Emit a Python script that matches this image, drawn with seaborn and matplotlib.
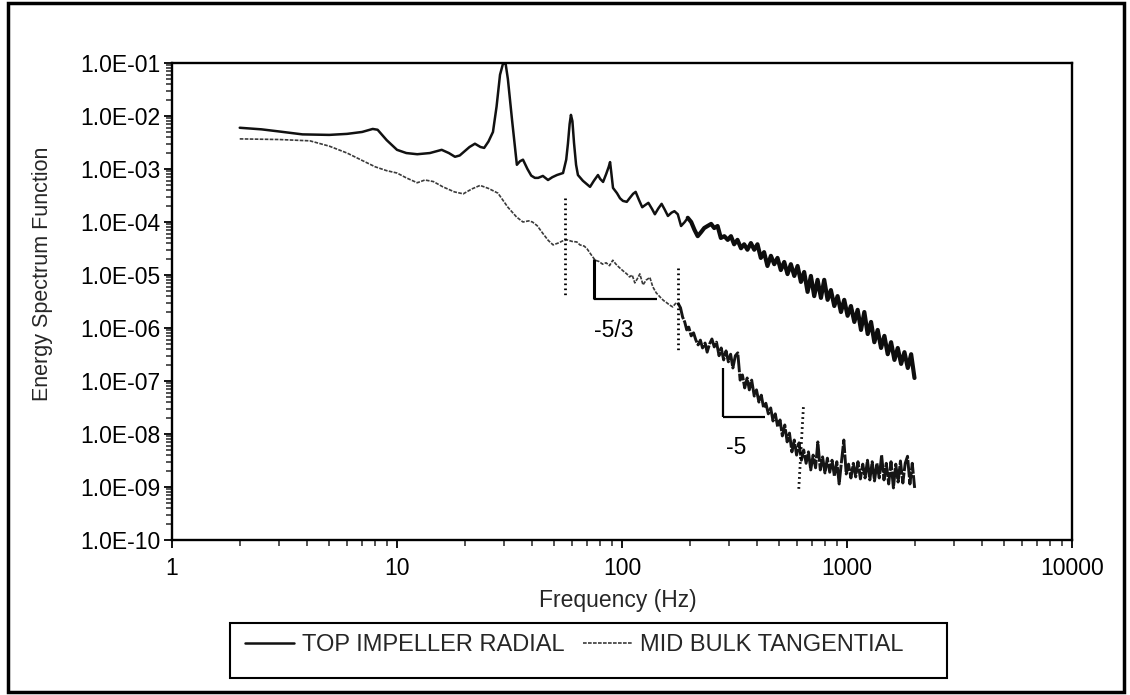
import numpy as np
import pandas as pd
import matplotlib
matplotlib.use("Agg")
import matplotlib.pyplot as plt
import seaborn as sns
from matplotlib.ticker import LogLocator, FuncFormatter, NullFormatter
from matplotlib.patches import Rectangle

# ---------------- data ----------------
series_labels = ["TOP IMPELLER RADIAL", "MID BULK TANGENTIAL"]

# TOP IMPELLER RADIAL (solid line)
top_freq_low = [2.0, 2.5, 3.0, 3.8, 5.0, 6.0, 7.0, 7.8, 8.2, 9.0, 10.0, 11.0, 12.3, 14.0, 15.8,
                17.0, 18.1, 19.0, 21.0, 22.2, 23.5, 24.4, 25.5, 26.7, 27.7, 28.7, 29.6, 30.4, 31.1, 32.5,
                34.1, 35.2, 36.3, 38.0, 39.5, 41.0, 42.4, 44.5, 46.9, 49.0, 51.4, 54.7, 56.5, 57.5, 58.5,
                59.3, 60.2, 61.2, 62.5, 63.7, 67.0, 72.1, 75.0, 78.2, 80.0, 82.4, 85.0, 87.3, 88.5, 89.5,
                91.2]
top_energy_low = [6.0e-3, 5.6e-3, 5.1e-3, 4.5e-3, 4.4e-3, 4.6e-3, 5.0e-3, 5.7e-3, 5.5e-3, 3.5e-3,
                  2.3e-3, 2.0e-3, 1.9e-3, 2.0e-3, 2.3e-3, 2.0e-3, 1.7e-3, 1.8e-3, 2.6e-3, 3.0e-3,
                  2.6e-3, 2.5e-3, 3.3e-3, 5.0e-3, 1.5e-2, 6.0e-2, 9.8e-2, 9.6e-2, 5.0e-2, 8.0e-3,
                  1.2e-3, 1.4e-3, 1.5e-3, 1.0e-3, 7.5e-4, 6.8e-4, 6.8e-4, 7.4e-4, 6.2e-4, 7.0e-4,
                  7.7e-4, 8.4e-4, 1.5e-3, 3.0e-3, 7.0e-3, 1.05e-2, 8.0e-3, 3.1e-3, 1.2e-3, 7.7e-4,
                  6.0e-4, 4.6e-4, 6.0e-4, 7.7e-4, 6.5e-4, 5.7e-4, 8.0e-4, 1.1e-3, 1.35e-3, 9.0e-4,
                  4.4e-4]
top_freq_high = [95, 98, 101, 105, 108, 112, 115, 119, 123, 127,
                 131, 136, 140, 145, 150, 155, 160, 166, 171, 177,
                 183, 190, 196, 203, 210, 217, 225, 232, 240, 249,
                 257, 266, 275, 285, 295, 305, 315, 326, 338, 349,
                 361, 374, 387, 400, 414, 428, 443, 459, 475, 491,
                 508, 526, 544, 563, 583, 603, 624, 645, 668, 691,
                 715, 740, 766, 792, 820, 848, 878, 908, 940, 972,
                 1006, 1041, 1078, 1115, 1154, 1194, 1236, 1279, 1323, 1369,
                 1417, 1466, 1517, 1570, 1625, 1681, 1740, 1800, 1863, 1928,
                 1995]
top_energy_high = [3.5e-4, 2.8e-4, 2.5e-4, 2.4e-4, 2.8e-4, 3.4e-4, 3.7e-4, 2.6e-4, 1.9e-4, 2.1e-4,
                   2.3e-4, 1.76e-4, 1.4e-4, 1.8e-4, 2.2e-4, 1.7e-4, 1.3e-4, 1.5e-4, 1.6e-4, 1.4e-4,
                   8.4e-5, 1.0e-4, 1.2e-4, 1.0e-4, 7.1e-5, 5.4e-5, 6.5e-5, 7.7e-5, 8.4e-5, 9.2e-5,
                   7.7e-5, 8.4e-5, 5.0e-5, 5.4e-5, 4.6e-5, 5.4e-5, 3.8e-5, 4.6e-5, 3.2e-5, 3.8e-5,
                   3.0e-5, 4.0e-5, 3.0e-5, 3.8e-5, 2.1e-5, 2.7e-5, 1.48e-5, 2.3e-5, 1.6e-5, 2.1e-5,
                   1.24e-5, 1.76e-5, 1.04e-5, 1.6e-5, 9.6e-6, 1.48e-5, 7.4e-6, 1.14e-5, 4.8e-6, 9.6e-6,
                   4.0e-6, 8.1e-6, 3.7e-6, 8.1e-6, 3.4e-6, 5.2e-6, 2.6e-6, 4.0e-6, 2.0e-6, 3.4e-6,
                   1.7e-6, 2.6e-6, 1.3e-6, 2.2e-6, 9.2e-7, 2.0e-6, 7.7e-7, 1.3e-6, 5.4e-7, 9.2e-7,
                   4.2e-7, 7.1e-7, 3.2e-7, 5.4e-7, 2.5e-7, 4.2e-7, 2.1e-7, 3.5e-7, 1.76e-7, 3.2e-7,
                   1.14e-7]

# MID BULK TANGENTIAL (dotted grey line)
mid_freq_low = [2.0, 3.0, 4.1, 5.0, 6.0, 7.0, 8.0, 9.0, 10.0, 11.0, 12.3, 13.3, 14.5, 16.0, 18.0,
                19.7, 21.5, 23.4, 25.5, 28.1, 31.1, 34.0, 36.3, 38.5, 40.0, 42.0, 44.6, 47.0, 49.4, 52.0,
                54.5]
mid_energy_low = [3.7e-3, 3.6e-3, 3.4e-3, 2.7e-3, 2.0e-3, 1.45e-3, 1.1e-3, 9.3e-4, 8.4e-4, 6.8e-4,
                  5.5e-4, 6.2e-4, 5.8e-4, 4.6e-4, 3.7e-4, 3.4e-4, 4.2e-4, 4.9e-4, 4.3e-4, 3.5e-4,
                  1.9e-4, 1.24e-4, 1.0e-4, 1.05e-4, 1.0e-4, 8.5e-5, 6.0e-5, 4.5e-5, 3.7e-5, 4.0e-5,
                  4.4e-5]
mid_freq_mid = [57, 60, 63, 65, 68, 70, 73, 76, 79, 82, 85, 88, 91, 94, 97, 101, 105, 108, 111, 114,
                117, 120, 124, 128, 133, 137, 142, 148, 153, 158, 163, 168, 173, 177]
mid_energy_mid = [4.6e-5, 4.3e-5, 4.2e-5, 3.7e-5, 3.5e-5, 3.1e-5, 2.4e-5, 1.9e-5, 1.8e-5, 1.6e-5,
                  1.7e-5, 1.5e-5, 1.9e-5, 1.6e-5, 1.4e-5, 1.2e-5, 1.05e-5, 9.2e-6, 1.0e-5, 7.1e-6,
                  8.5e-6, 1.05e-5, 6.5e-6, 8.0e-6, 9.0e-6, 6.0e-6, 4.6e-6, 3.8e-6, 3.3e-6, 3.0e-6,
                  2.7e-6, 2.5e-6, 2.9e-6, 3.0e-6]
mid_freq_high = [182, 186, 190, 194, 198, 203, 208, 213, 218, 223,
                 228, 234, 239, 245, 251, 257, 263, 270, 276, 283,
                 290, 297, 304, 311, 319, 327, 335, 343, 351, 360,
                 368, 377, 387, 396, 406, 416, 426, 436, 447, 458,
                 469, 480, 492, 504, 516, 529, 542, 555, 569, 583,
                 597, 612, 627, 642, 658, 674, 690, 707, 725, 742,
                 761, 779, 798, 818, 838, 858, 879, 901, 923, 945,
                 968, 992, 1016, 1041, 1067, 1093, 1119, 1147, 1175, 1203,
                 1233, 1263, 1294, 1325, 1358, 1391, 1425, 1460, 1495, 1532,
                 1569, 1608, 1647, 1687, 1728, 1771, 1814, 1858, 1904, 1950,
                 1998]
mid_energy_high = [2.4e-6, 1.6e-6, 1.3e-6, 9.2e-7, 1.04e-6, 7.1e-7, 8.1e-7, 5.9e-7, 4.8e-7, 5.9e-7,
                   4.2e-7, 5.2e-7, 3.5e-7, 5.0e-7, 6.2e-7, 4.4e-7, 5.4e-7, 3.0e-7, 4.2e-7, 2.5e-7,
                   3.7e-7, 2.3e-7, 3.2e-7, 1.76e-7, 3.0e-7, 3.4e-7, 1.04e-7, 1.3e-7, 7.4e-8, 1.14e-7,
                   6.8e-8, 1.04e-7, 5.2e-8, 6.8e-8, 4.0e-8, 5.4e-8, 3.1e-8, 3.8e-8, 2.4e-8, 3.1e-8,
                   1.76e-8, 2.4e-8, 1.36e-8, 1.84e-8, 9.2e-9, 1.48e-8, 7.1e-9, 1.04e-8, 4.6e-9, 7.7e-9,
                   4.0e-9, 6.8e-9, 3.2e-9, 5.0e-9, 2.8e-9, 4.6e-9, 2.1e-9, 4.0e-9, 2.3e-9, 7.1e-9,
                   2.1e-9, 3.7e-9, 1.84e-9, 3.5e-9, 1.9e-9, 3.2e-9, 1.6e-9, 3.0e-9, 1.14e-9, 3.0e-9,
                   7.7e-9, 1.76e-9, 2.7e-9, 1.48e-9, 2.8e-9, 1.55e-9, 3.0e-9, 1.42e-9, 2.7e-9, 1.48e-9,
                   3.2e-9, 1.36e-9, 3.0e-9, 1.3e-9, 2.8e-9, 1.48e-9, 4.0e-9, 1.36e-9, 2.8e-9, 1.14e-9,
                   3.0e-9, 9.6e-10, 2.7e-9, 1.24e-9, 3.1e-9, 1.19e-9, 2.8e-9, 3.8e-9, 1.14e-9, 2.8e-9,
                   9.6e-10]

# range boundaries (dotted verticals): frequency at top / bottom, energy top / bottom
boundary_freq_top = [56, 177, 640]
boundary_freq_bottom = [56, 177, 610]
boundary_energy_top = [2.8e-4, 1.35e-5, 3.2e-8]
boundary_energy_bottom = [3.8e-6, 3.8e-7, 8.7e-10]

# slope indicators: corner frequency, right frequency, top energy, base energy, label
slope_freq_left = [75, 281]
slope_freq_right = [143, 432]
slope_energy_top = [2.0e-5, 1.76e-7]
slope_energy_base = [3.5e-6, 2.1e-8]
slope_labels = ["-5/3", "-5"]
slope_label_freq = [92, 322]
slope_label_energy = [9.0e-7, 5.5e-9]

x_ticks = [1, 10, 100, 1000, 10000]
y_ticks = [1e-10, 1e-9, 1e-8, 1e-7, 1e-6, 1e-5, 1e-4, 1e-3, 1e-2, 1e-1]

# ---------------- build frames ----------------
top_freq = top_freq_low + top_freq_high
top_energy = top_energy_low + top_energy_high
mid_freq = mid_freq_low + mid_freq_mid + mid_freq_high
mid_energy = mid_energy_low + mid_energy_mid + mid_energy_high
assert len(top_freq) == len(top_energy), (len(top_freq), len(top_energy))
assert len(mid_freq) == len(mid_energy), (len(mid_freq), len(mid_energy))

top_df = pd.DataFrame({"Frequency": top_freq, "Energy": top_energy})
mid_df = pd.DataFrame({"Frequency": mid_freq, "Energy": mid_energy})

# ---------------- style ----------------
sns.set_style("ticks")
plt.rcParams["font.family"] = ["Liberation Sans", "DejaVu Sans"]
FS_TICK = 16.5
FS_TEXT = 16.5
FS_LEG = 17

fig = plt.figure(figsize=(11.3, 6.95), dpi=100)
ax = fig.add_axes([172 / 1130, 1 - 540 / 695, 900 / 1130, 477 / 695])
ax.set_xscale("log")
ax.set_yscale("log")

# top series: thin line at low frequency, dense thick trace at high frequency
sns.lineplot(data=top_df[top_df["Frequency"] <= 196], x="Frequency", y="Energy", ax=ax,
             color="#111111", lw=1.8, label=series_labels[0], estimator=None, sort=False)
sns.lineplot(data=top_df[top_df["Frequency"] >= 196], x="Frequency", y="Energy", ax=ax,
             color="#0d0d0d", lw=3.0, estimator=None, sort=False)
# mid series: grey dotted at low frequency, dark noisy trace at high frequency
sns.lineplot(data=mid_df[mid_df["Frequency"] <= 177], x="Frequency", y="Energy", ax=ax,
             color="#3a3a3a", lw=1.2, linestyle=(0, (2.2, 0.8)), label=series_labels[1],
             estimator=None, sort=False)
sns.lineplot(data=mid_df[mid_df["Frequency"] >= 177], x="Frequency", y="Energy", ax=ax,
             color="#151515", lw=2.1, linestyle=(0, (6.0, 0.5)), estimator=None, sort=False)

# dotted range boundaries
for ft, fb, et, eb in zip(boundary_freq_top, boundary_freq_bottom, boundary_energy_top, boundary_energy_bottom):
    ax.plot([ft, fb], [et, eb], color="black", lw=2.0, linestyle=(0, (0.6, 1.2)))

# slope indicators
for i, (fl, fr, et, eb) in enumerate(zip(slope_freq_left, slope_freq_right, slope_energy_top, slope_energy_base)):
    ax.plot([fl, fl], [et, eb], color="black", lw=2.2 if i == 0 else 1.6, solid_capstyle="butt")
    ax.plot([fl, fr], [eb, eb], color="black", lw=1.6, solid_capstyle="butt")
for lab, lf, le in zip(slope_labels, slope_label_freq, slope_label_energy):
    ax.text(lf, le, lab, fontsize=FS_TEXT, ha="center", va="center", color="black")

ax.set_xlim(1, 10000)
ax.set_ylim(1e-10, 1e-1)
ax.set_xticks(x_ticks)
ax.set_yticks(y_ticks)
ax.xaxis.set_major_formatter(FuncFormatter(lambda v, _: f"{v:g}"))
ax.yaxis.set_major_formatter(FuncFormatter(lambda v, _: f"{v:.1E}"))
ax.xaxis.set_minor_locator(LogLocator(base=10, subs=np.arange(2, 10), numticks=100))
ax.yaxis.set_minor_locator(LogLocator(base=10, subs=np.arange(2, 10), numticks=100))
ax.xaxis.set_minor_formatter(NullFormatter())
ax.yaxis.set_minor_formatter(NullFormatter())

ax.tick_params(axis="both", which="major", direction="out", length=6, width=1.3,
               labelsize=FS_TICK, colors="black", top=False, right=False)
ax.tick_params(axis="both", which="minor", direction="out", length=4.5, width=1.1,
               top=False, right=False)
ax.tick_params(axis="y", which="major", pad=2.5)
ax.tick_params(axis="x", which="major", pad=6)
for sp in ax.spines.values():
    sp.set_visible(True)
    sp.set_linewidth(1.7)
    sp.set_color("black")

ax.set_xlabel("Frequency (Hz)", fontsize=FS_TEXT)
ax.set_ylabel("Energy Spectrum Function", fontsize=15.5)
ax.xaxis.set_label_coords(0.495, -0.126)
ax.xaxis.label.set_va("center")
ax.yaxis.set_label_coords(-0.144, 0.558)
ax.yaxis.label.set_va("center")

handles, labels = ax.get_legend_handles_labels()
if ax.get_legend() is not None:
    ax.get_legend().remove()
fig.legend(handles, labels, loc="center", bbox_to_anchor=(0.508, 1 - 645 / 695), ncol=2,
           frameon=False, fontsize=FS_LEG, handlelength=2.1, handletextpad=0.3, columnspacing=0.8)

# legend frame and scanned page border
fig.patches.append(Rectangle((230 / 1130, 1 - 678 / 695), 717 / 1130, 55 / 695,
                             transform=fig.transFigure, fill=False, ec="black", lw=1.5))
fig.patches.append(Rectangle((8 / 1130, 3 / 695), 1116 / 1130, 689 / 695,
                             transform=fig.transFigure, fill=False, ec="black", lw=2.5))

fig.savefig("out.png", dpi=100, facecolor="white")
